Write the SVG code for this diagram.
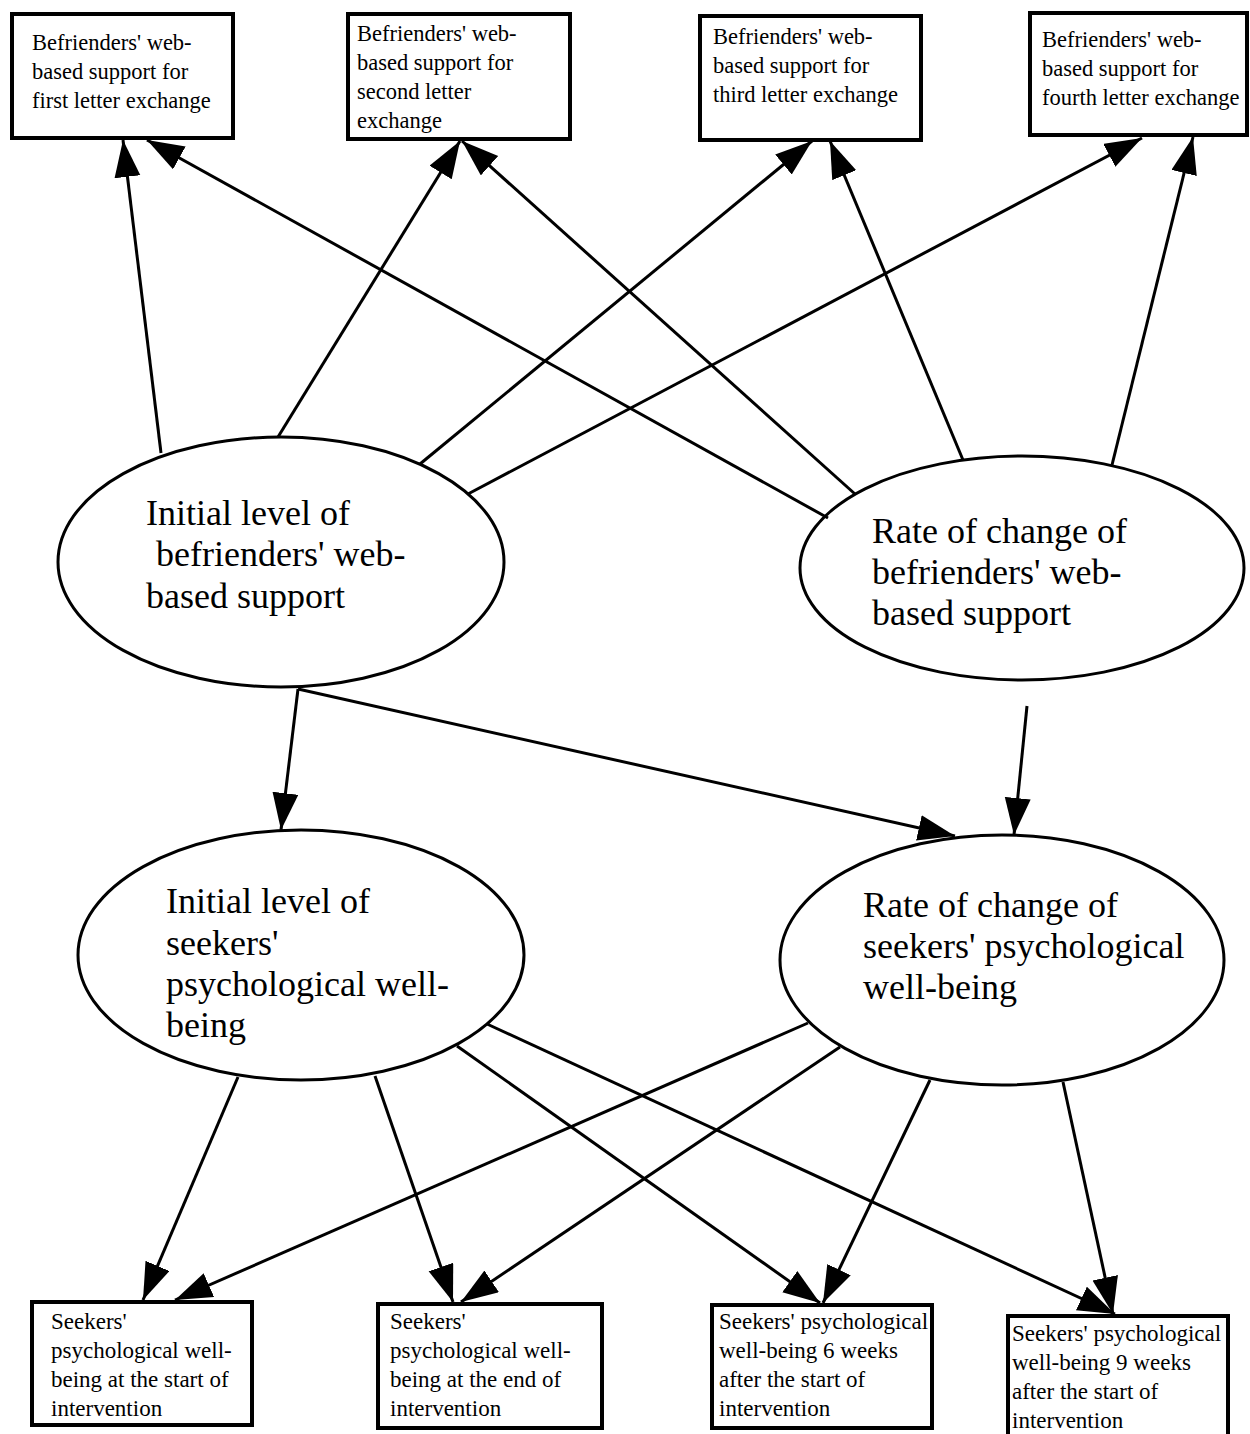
<svg xmlns="http://www.w3.org/2000/svg" width="1250" height="1434" viewBox="0 0 1250 1434">
<defs>
<marker id="ah" markerUnits="userSpaceOnUse" markerWidth="40" markerHeight="28" refX="37" refY="13" orient="auto">
<path d="M0,0 L37,13 L0,26 z" fill="#000"/>
</marker>
<style>
.box{fill:#fff;stroke:#000;stroke-width:4}
.ell{fill:#fff;stroke:#000;stroke-width:3}
.tb{font-family:"Liberation Serif","Times New Roman",serif;font-size:22.5px;fill:#000}
.bb{font-family:"Liberation Serif","Times New Roman",serif;font-size:23px;fill:#000}
.et{font-family:"Liberation Serif","Times New Roman",serif;font-size:36px;fill:#000}
.cn line{stroke:#000;stroke-width:3;marker-end:url(#ah)}
</style>
</defs>
<rect width="1250" height="1434" fill="#fff"/>

<g id="box1"><rect class="box" x="12" y="14" width="221" height="124"/>
<text class="tb" x="32" y="50">Befrienders' web-</text><text class="tb" x="32" y="79">based support for</text><text class="tb" x="32" y="108">first letter exchange</text></g>
<g id="box2"><rect class="box" x="348" y="14" width="222" height="125"/>
<text class="tb" x="357" y="41">Befrienders' web-</text><text class="tb" x="357" y="70">based support for</text><text class="tb" x="357" y="99">second letter</text><text class="tb" x="357" y="128">exchange</text></g>
<g id="box3"><rect class="box" x="700" y="16" width="221" height="124"/>
<text class="tb" x="713" y="44">Befrienders' web-</text><text class="tb" x="713" y="73">based support for</text><text class="tb" x="713" y="102">third letter exchange</text></g>
<g id="box4"><rect class="box" x="1030" y="13" width="217" height="122"/>
<text class="tb" x="1042" y="47">Befrienders' web-</text><text class="tb" x="1042" y="76">based support for</text><text class="tb" x="1042" y="105">fourth letter exchange</text></g>

<g id="e1"><ellipse class="ell" cx="281" cy="562" rx="223" ry="125"/>
<text class="et" x="146" y="525">Initial level of</text><text class="et" x="156" y="566">befrienders' web-</text><text class="et" x="146" y="608">based support</text></g>
<g id="e2"><ellipse class="ell" cx="1022" cy="568" rx="222" ry="112"/>
<text class="et" x="872" y="543">Rate of change of</text><text class="et" x="872" y="584">befrienders' web-</text><text class="et" x="872" y="625">based support</text></g>
<g id="e3"><ellipse class="ell" cx="301" cy="955" rx="223" ry="125"/>
<text class="et" x="166" y="913">Initial level of</text><text class="et" x="166" y="955">seekers'</text><text class="et" x="166" y="996">psychological well-</text><text class="et" x="166" y="1037">being</text></g>
<g id="e4"><ellipse class="ell" cx="1002" cy="960" rx="222" ry="125"/>
<text class="et" x="863" y="917">Rate of change of</text><text class="et" x="863" y="958">seekers' psychological</text><text class="et" x="863" y="999">well-being</text></g>

<g id="box5"><rect class="box" x="32" y="1302" width="220" height="123"/>
<text class="bb" x="51" y="1329">Seekers'</text><text class="bb" x="51" y="1358">psychological well-</text><text class="bb" x="51" y="1387">being at the start of</text><text class="bb" x="51" y="1416">intervention</text></g>
<g id="box6"><rect class="box" x="378" y="1304" width="224" height="124"/>
<text class="bb" x="390" y="1329">Seekers'</text><text class="bb" x="390" y="1358">psychological well-</text><text class="bb" x="390" y="1387">being at the end of</text><text class="bb" x="390" y="1416">intervention</text></g>
<g id="box7"><rect class="box" x="712" y="1305" width="220" height="123"/>
<text class="bb" x="719" y="1329">Seekers' psychological</text><text class="bb" x="719" y="1358">well-being 6 weeks</text><text class="bb" x="719" y="1387">after the start of</text><text class="bb" x="719" y="1416">intervention</text></g>
<g id="box8"><rect class="box" x="1008" y="1316" width="220" height="130"/>
<text class="bb" x="1012" y="1341">Seekers' psychological</text><text class="bb" x="1012" y="1370">well-being 9 weeks</text><text class="bb" x="1012" y="1399">after the start of</text><text class="bb" x="1012" y="1428">intervention</text></g>

<g id="connectors" class="cn">
<line x1="161" y1="453" x2="123" y2="140"/>
<line x1="278" y1="437" x2="460" y2="141"/>
<line x1="420" y1="464" x2="812" y2="141"/>
<line x1="468" y1="494" x2="1142" y2="138"/>
<line x1="298" y1="689" x2="281" y2="830"/>
<line x1="298" y1="689" x2="955" y2="836"/>
<line x1="828" y1="518" x2="147" y2="140"/>
<line x1="855" y1="494" x2="462" y2="141"/>
<line x1="963" y1="460" x2="830" y2="141"/>
<line x1="1112" y1="465" x2="1193" y2="137"/>
<line x1="1027" y1="706" x2="1014" y2="835"/>
<line x1="238" y1="1077" x2="143" y2="1300"/>
<line x1="375" y1="1076" x2="453" y2="1302"/>
<line x1="457" y1="1046" x2="820" y2="1303"/>
<line x1="487" y1="1024" x2="1115" y2="1314"/>
<line x1="808" y1="1023" x2="175" y2="1300"/>
<line x1="840" y1="1047" x2="461" y2="1302"/>
<line x1="930" y1="1080" x2="823" y2="1303"/>
<line x1="1063" y1="1082" x2="1113" y2="1314"/>
</g>
</svg>
